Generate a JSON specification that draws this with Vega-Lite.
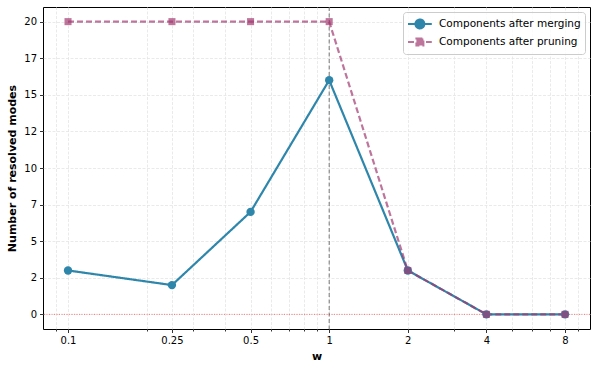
{
  "$schema": "https://vega.github.io/schema/vega-lite/v6.json",
  "width": 547,
  "height": 322,
  "autosize": "none",
  "padding": {"left": 43, "top": 7, "right": 8, "bottom": 41},
  "config": {
    "font": "DejaVu Sans",
    "view": {"stroke": "#000", "strokeWidth": 1},
    "axis": {
      "labelColor": "#000", "titleColor": "#000", "tickColor": "#000",
      "labelFontSize": 10, "titleFontSize": 11, "titleFontWeight": "bold",
      "gridColor": "#e4e4e4", "gridDash": [3, 1.5], "gridWidth": 0.8,
      "domain": false, "tickWidth": 0.8
    }
  },
  "data": {"values": [
    {"w": 0.1, "n": 3, "series": "Components after merging"},
    {"w": 0.25, "n": 2, "series": "Components after merging"},
    {"w": 0.5, "n": 7, "series": "Components after merging"},
    {"w": 1, "n": 16, "series": "Components after merging"},
    {"w": 2, "n": 3, "series": "Components after merging"},
    {"w": 4, "n": 0, "series": "Components after merging"},
    {"w": 8, "n": 0, "series": "Components after merging"},
    {"w": 0.1, "n": 20, "series": "Components after pruning"},
    {"w": 0.25, "n": 20, "series": "Components after pruning"},
    {"w": 0.5, "n": 20, "series": "Components after pruning"},
    {"w": 1, "n": 20, "series": "Components after pruning"},
    {"w": 2, "n": 3, "series": "Components after pruning"},
    {"w": 4, "n": 0, "series": "Components after pruning"},
    {"w": 8, "n": 0, "series": "Components after pruning"}
  ]},
  "resolve": {"axis": {"x": "independent"}},
  "layer": [
    {
      "data": {"values": [{"w": 1}]},
      "mark": {"type": "rule", "stroke": "#555", "strokeOpacity": 0.8, "strokeDash": [4, 2.5], "strokeWidth": 1},
      "encoding": {
        "x": {"field": "w", "type": "quantitative",
          "scale": {"type": "log", "domain": [0.0802, 9.97], "nice": false},
          "axis": {"orient": "bottom", "values": [0.09, 0.2, 0.3, 0.4, 0.6, 0.7, 0.8, 0.9, 3, 5, 6, 7, 9], "labels": false, "tickSize": 2, "grid": true, "title": null}}
      }
    },
    {
      "data": {"values": [{"n": 0}]},
      "mark": {"type": "rule", "stroke": "#ff0000", "strokeOpacity": 0.5, "strokeDash": [1, 1.5], "strokeWidth": 1},
      "encoding": {
        "y": {"field": "n", "type": "quantitative"}
      }
    },
    {
      "mark": {"type": "line", "strokeWidth": 2.2},
      "encoding": {
        "x": {"field": "w", "type": "quantitative",
          "scale": {"type": "log", "domain": [0.0802, 9.97], "nice": false},
          "axis": {"orient": "bottom", "values": [0.1, 0.25, 0.5, 1, 2, 4, 8], "format": "~g", "tickSize": 3.5, "labelPadding": 3, "grid": true, "title": "w", "titlePadding": 5}},
        "y": {"field": "n", "type": "quantitative",
          "scale": {"domain": [-1, 21], "nice": false, "zero": false},
          "axis": {"values": [0, 2.5, 5, 7.5, 10, 12.5, 15, 17.5, 20], "labelExpr": "floor(datum.value)", "tickSize": 3.5, "labelPadding": 3, "grid": true, "title": "Number of resolved modes", "titlePadding": 6}},
        "color": {"field": "series", "type": "nominal",
          "scale": {"domain": ["Components after merging", "Components after pruning"], "range": ["#2E86AB", "#A23B72"]},
          "legend": {
            "orient": "top-right", "title": null, "offset": 5, "padding": 4, "cornerRadius": 3,
            "strokeColor": "#cccccc", "fillColor": "rgba(255,255,255,0.8)",
            "labelFontSize": 10.5, "labelColor": "#000", "labelOffset": 16, "rowPadding": 1,
            "symbolSize": 196, "symbolStrokeWidth": 2,
            "encode": {"symbols": {"update": {
              "shape": {"signal": "datum.value == 'Components after merging' ? 'M-1,0H2.4M1.34,0A0.64,0.64 0 1,1 0.06,0A0.64,0.64 0 1,1 1.34,0Z' : 'M-1,0H2.4M0.2,-0.5H1.2V0.5H0.2Z'"},
              "fill": {"signal": "datum.value == 'Components after merging' ? '#2E86AB' : '#A23B72'"},
              "stroke": {"signal": "datum.value == 'Components after merging' ? '#2E86AB' : '#A23B72'"},
              "opacity": {"signal": "datum.value == 'Components after merging' ? 1 : 0.7"},
              "strokeDash": {"signal": "datum.value == 'Components after merging' ? [1, 0] : [4, 2]"}
            }}}
          }},
        "strokeDash": {"field": "series", "type": "nominal",
          "scale": {"domain": ["Components after merging", "Components after pruning"], "range": [[1, 0], [6, 3]]},
          "legend": null},
        "opacity": {"field": "series", "type": "nominal",
          "scale": {"domain": ["Components after merging", "Components after pruning"], "range": [1, 0.7]},
          "legend": null}
      }
    },
    {
      "transform": [{"filter": "datum.series == 'Components after merging'"}],
      "mark": {"type": "point", "filled": true, "shape": "circle", "size": 70, "opacity": 1},
      "encoding": {
        "x": {"field": "w", "type": "quantitative", "axis": null},
        "y": {"field": "n", "type": "quantitative"},
        "color": {"field": "series", "type": "nominal"}
      }
    },
    {
      "transform": [{"filter": "datum.series == 'Components after pruning'"}],
      "mark": {"type": "point", "filled": true, "shape": "square", "size": 50, "opacity": 0.7},
      "encoding": {
        "x": {"field": "w", "type": "quantitative", "axis": null},
        "y": {"field": "n", "type": "quantitative"},
        "color": {"field": "series", "type": "nominal"}
      }
    }
  ]
}
